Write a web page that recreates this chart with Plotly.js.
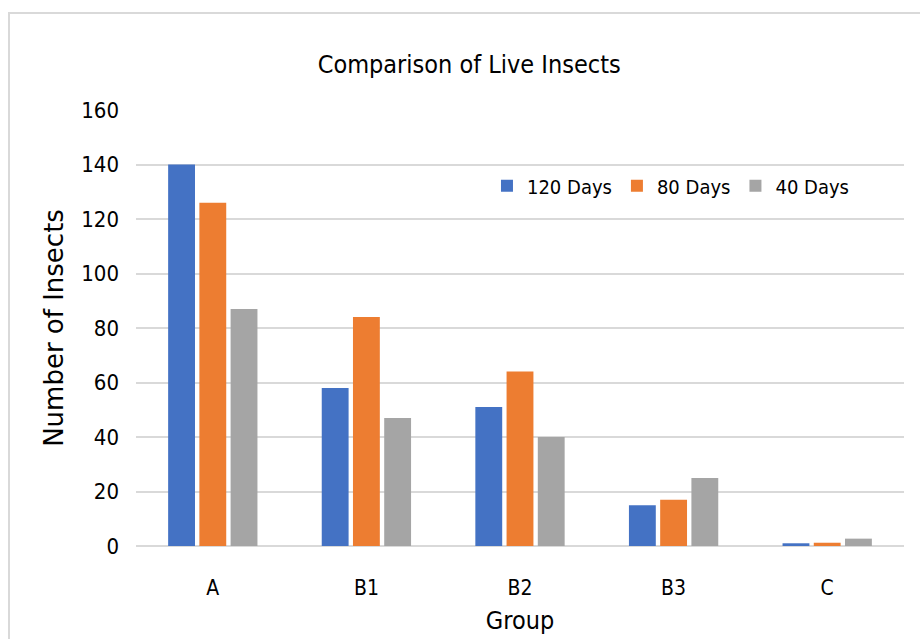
<!DOCTYPE html>
<html>
<head>
<meta charset="utf-8">
<script src="https://cdn.plot.ly/plotly-3.0.1.min.js"></script>
<style>
html,body{margin:0;padding:0;background:#fff;overflow:hidden;}
#frame{position:absolute;left:8px;top:12px;width:940px;height:660px;border-left:2px solid #d9d9d9;border-top:2px solid #d9d9d9;}
#chart{position:absolute;left:0;top:0;width:920px;height:639px;}
</style>
</head>
<body>
<div id="frame"></div>
<div id="chart"></div>
<script>
const groups = ["A", "B1", "B2", "B3", "C"];
const days120 = [140, 58, 51, 15, 1];
const days80 = [126, 84, 64, 17, 1.2];
const days40 = [87, 47, 40, 25, 2.7];
const seriesNames = ["120 Days", "80 Days", "40 Days"];
const yTicks = [0, 20, 40, 60, 80, 100, 120, 140, 160];

const font = "'DejaVu Sans Condensed', 'Liberation Sans Narrow', 'Liberation Sans', sans-serif";
const colors = ["#4472c4", "#ed7d31", "#a5a5a5"];
const data = [days120, days80, days40].map((v, i) => ({
  type: "bar", x: groups, y: v, name: seriesNames[i],
  marker: {color: colors[i]}, hoverinfo: "skip"
}));

const layout = {
  width: 920, height: 639,
  paper_bgcolor: "rgba(0,0,0,0)", plot_bgcolor: "rgba(0,0,0,0)",
  margin: {l: 136, r: 16, t: 110, b: 93},
  barmode: "group", bargap: 0.39, bargroupgap: 0.14,
  title: {text: "Comparison of Live Insects", x: 0.51, xanchor: "center", y: 0.9, yanchor: "middle",
          font: {family: font, size: 25, color: "#000"}},
  xaxis: {
    type: "category", tickfont: {family: font, size: 21, color: "#000"},
    showline: false, zeroline: false, ticks: "", showgrid: false, ticklabelstandoff: 27,
    title: {text: "Group", font: {family: font, size: 25, color: "#000"}, standoff: 12}
  },
  yaxis: {
    range: [0, 160], tickvals: yTicks, ticktext: yTicks.map(String),
    tickfont: {family: font, size: 22, color: "#000"},
    showgrid: true, gridcolor: "#d9d9d9", gridwidth: 2, zeroline: true, zerolinecolor: "#d9d9d9", zerolinewidth: 2,
    showline: false, ticks: "", ticklen: 0, ticklabelstandoff: 16,
    title: {text: "Number of Insects", font: {family: "'DejaVu Sans', sans-serif", size: 26, color: "#000"}, standoff: 10}
  },
  legend: {orientation: "h", x: 0.457, y: 0.826, xanchor: "left", yanchor: "middle",
           font: {family: font, size: 20, color: "#000"}, itemwidth: 30, bgcolor: "rgba(0,0,0,0)"},
  showlegend: true
};
Plotly.newPlot("chart", data, layout, {displayModeBar: false, staticPlot: true});
</script>
</body>
</html>
